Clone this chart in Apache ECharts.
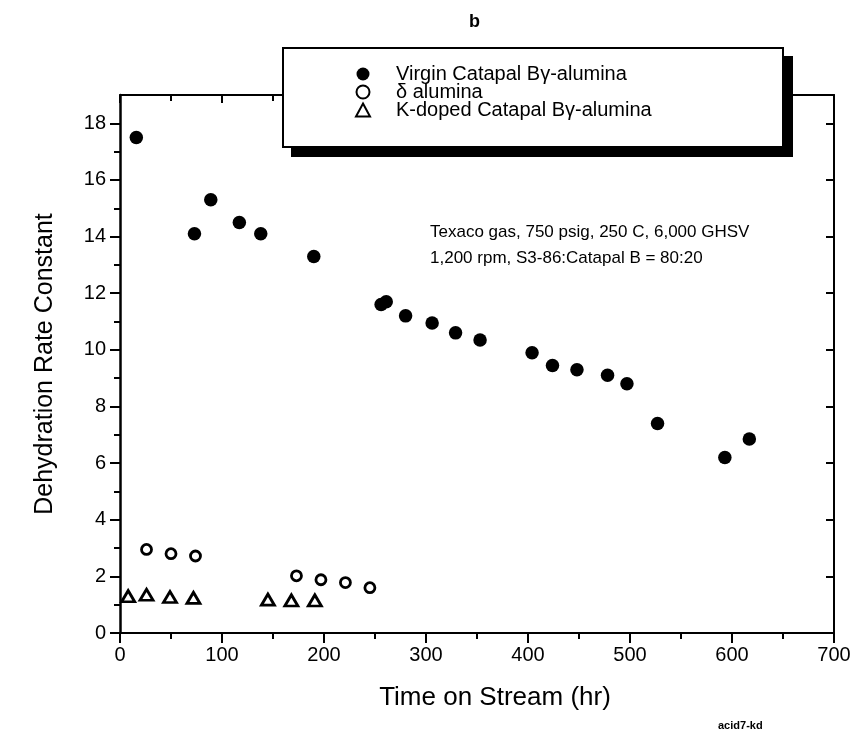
<!DOCTYPE html>
<html>
<head>
<meta charset="utf-8">
<title>Dehydration Rate Constant vs Time on Stream</title>
<script src="https://cdn.jsdelivr.net/npm/echarts@6/dist/echarts.min.js"></script>
<style>
  html, body { margin: 0; padding: 0; background: #fff; }
  #chart { width: 858px; height: 732px; }
</style>
</head>
<body>
<div id="chart"></div>
<script>
// Virgin Catapal B gamma-alumina
const virginTime = [16, 73, 89, 117, 138, 190, 256, 261, 280, 306, 329, 353, 404, 424, 448, 478, 497, 527, 593, 617];
const virginRate = [17.5, 14.1, 15.3, 14.5, 14.1, 13.3, 11.6, 11.7, 11.2, 10.95, 10.6, 10.35, 9.9, 9.45, 9.3, 9.1, 8.8, 7.4, 6.2, 6.85];

// delta alumina
const deltaTime = [26, 50, 74, 173, 197, 221, 245];
const deltaRate = [2.95, 2.8, 2.72, 2.02, 1.88, 1.78, 1.6];

// K-doped Catapal B gamma-alumina
const kdopedTime = [8, 26, 49, 72, 145, 168, 191];
const kdopedRate = [1.3, 1.35, 1.27, 1.24, 1.18, 1.15, 1.15];

const seriesNames = ['Virgin Catapal B\u03b3-alumina', '\u03b4 alumina', 'K-doped Catapal B\u03b3-alumina'];

const yMajorTicks = [0, 2, 4, 6, 8, 10, 12, 14, 16, 18];
const yMinorTicks = [1, 3, 5, 7, 9, 11, 13, 15, 17];

const noteLines = ['Texaco gas, 750 psig, 250 C, 6,000 GHSV', '1,200 rpm, S3-86:Catapal B = 80:20'];

const FONT = '"Liberation Sans", Arial, Helvetica, sans-serif';
const INK = '#000';

function pairs(xs, ys) { return xs.map((x, i) => [x, ys[i]]); }

const chart = echarts.init(document.getElementById('chart'), null, { renderer: 'canvas' });

const baseX = { type: 'value', min: 0, max: 700, interval: 100, gridIndex: 0, splitLine: { show: false } };
const baseY = { type: 'value', min: 0, max: 19, gridIndex: 0, splitLine: { show: false } };

const option = {
  backgroundColor: '#fff',
  animation: false,
  title: {
    text: 'b',
    left: 464, top: 8,
    textStyle: { fontFamily: FONT, fontSize: 18, fontWeight: 'bold', color: INK }
  },
  grid: { left: 120, right: 24, top: 95, bottom: 99, containLabel: false },
  xAxis: [
    Object.assign({}, baseX, {
      position: 'bottom',
      name: 'Time on Stream (hr)',
      nameLocation: 'middle',
      nameGap: 52,
      nameTextStyle: { fontFamily: FONT, fontSize: 26, color: INK, padding: [0, 0, 0, 36] },
      axisLine: { show: true, lineStyle: { color: INK, width: 2 } },
      axisTick: { show: true, inside: false, length: 10, lineStyle: { color: INK, width: 2 } },
      minorTick: { show: true, splitNumber: 2, length: 6, lineStyle: { color: INK, width: 2 } },
      axisLabel: { fontFamily: FONT, fontSize: 20, color: INK, margin: 12 }
    }),
    Object.assign({}, baseX, {
      position: 'top',
      axisLine: { show: true, onZero: false, lineStyle: { color: INK, width: 2 } },
      axisTick: { show: true, inside: true, length: 8, lineStyle: { color: INK, width: 2 } },
      minorTick: { show: true, splitNumber: 2, length: 6, lineStyle: { color: INK, width: 2 } },
      axisLabel: { show: false }
    })
  ],
  yAxis: [
    Object.assign({}, baseY, {
      position: 'left',
      name: 'Dehydration Rate Constant',
      nameLocation: 'middle',
      nameGap: 62,
      nameTextStyle: { fontFamily: FONT, fontSize: 25, color: INK },
      axisLine: { show: true, onZero: false, lineStyle: { color: INK, width: 2.5 } },
      axisTick: { show: true, inside: false, length: 10, customValues: yMajorTicks, lineStyle: { color: INK, width: 2 } },
      axisLabel: { fontFamily: FONT, fontSize: 20, color: INK, margin: 14, customValues: yMajorTicks }
    }),
    Object.assign({}, baseY, {
      position: 'left',
      axisLine: { show: false },
      axisTick: { show: true, inside: false, length: 6, customValues: yMinorTicks, lineStyle: { color: INK, width: 2 } },
      axisLabel: { show: false, customValues: yMinorTicks }
    }),
    Object.assign({}, baseY, {
      position: 'right',
      axisLine: { show: true, onZero: false, lineStyle: { color: INK, width: 2 } },
      axisTick: { show: true, inside: true, length: 8, customValues: yMajorTicks, lineStyle: { color: INK, width: 2 } },
      axisLabel: { show: false, customValues: yMajorTicks }
    }),
    Object.assign({}, baseY, {
      position: 'right',
      axisLine: { show: false },
      axisTick: { show: true, inside: true, length: 6, customValues: yMinorTicks, lineStyle: { color: INK, width: 2 } },
      axisLabel: { show: false, customValues: yMinorTicks }
    })
  ],
  legend: {
    orient: 'vertical',
    left: 355, top: 64,
    itemWidth: 14, itemHeight: 13,
    itemGap: -2,
    padding: 0,
    selectedMode: false,
    z: 20,
    textStyle: { fontFamily: FONT, fontSize: 20, color: INK, lineHeight: 18, padding: [0, 0, 0, 21] },
    data: seriesNames
  },
  graphic: [
    // shadow of the legend frame
    { type: 'rect', z: 10, shape: { x: 291, y: 56, width: 502, height: 101 }, style: { fill: INK } },
    // legend frame
    { type: 'rect', z: 11, shape: { x: 283, y: 48, width: 500, height: 99 }, style: { fill: '#fff', stroke: INK, lineWidth: 2 } },
    {
      type: 'text', left: 430, top: 219, z: 5,
      style: { text: noteLines.join('\n'), font: '17px ' + FONT, fill: INK, lineHeight: 26 }
    },
    {
      type: 'text', left: 718, top: 720, z: 5,
      style: { text: 'acid7-kd', font: 'bold 11px ' + FONT, fill: INK }
    }
  ],
  series: [
    {
      name: seriesNames[0], type: 'scatter', xAxisIndex: 0, yAxisIndex: 0,
      symbol: 'circle', symbolSize: 13.5,
      itemStyle: { color: INK, opacity: 1 },
      data: pairs(virginTime, virginRate), z: 3
    },
    {
      name: seriesNames[1], type: 'scatter', xAxisIndex: 0, yAxisIndex: 0,
      symbol: 'circle', symbolSize: 10,
      itemStyle: { color: '#fff', borderColor: INK, borderWidth: 2.8, opacity: 1 },
      data: pairs(deltaTime, deltaRate), z: 3
    },
    {
      name: seriesNames[2], type: 'scatter', xAxisIndex: 0, yAxisIndex: 0,
      symbol: 'triangle', symbolSize: [13, 11],
      itemStyle: { color: '#fff', borderColor: INK, borderWidth: 2.8, opacity: 1 },
      data: pairs(kdopedTime, kdopedRate), z: 3
    }
  ]
};

chart.setOption(option);
</script>
</body>
</html>
